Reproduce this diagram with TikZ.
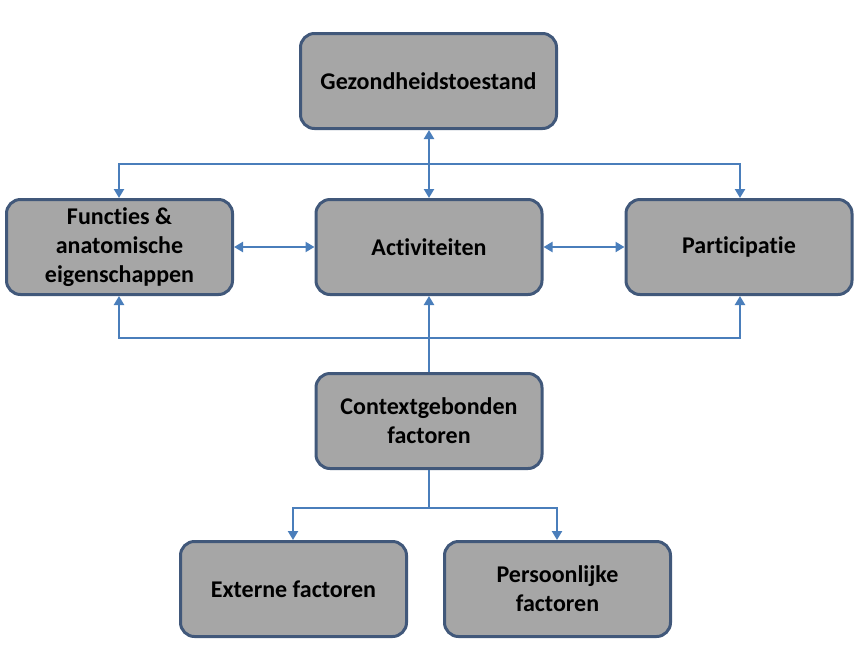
\documentclass[tikz,border=0pt]{standalone}
\usepackage{fontspec}
\setmainfont[Ligatures={NoCommon}]{Carlito}
\usetikzlibrary{arrows.meta}
\definecolor{boxfill}{HTML}{A6A6A6}
\definecolor{boxline}{HTML}{41587A}
\definecolor{conn}{HTML}{4A7EBB}
\begin{document}
\begin{tikzpicture}[x=1pt,y=-1pt,
  box/.style={draw=boxline, fill=boxfill, line width=3pt, rounded corners=14pt,
    minimum width=226pt, minimum height=95pt, align=center, inner sep=0pt,
    font=\bfseries\fontsize{24}{29}\selectfont},
  conline/.style={draw=conn, line width=2.9pt},
  arr/.style={conline, -{Triangle[length=9pt,width=10pt]}},
  darr/.style={conline, {Triangle[length=9pt,width=10pt]}-{Triangle[length=9pt,width=10pt]}}]
\useasboundingbox (0,0) rectangle (863,657);
\node[box, minimum width=256pt] (gez) at (428.5,81) {Gezondheidstoestand};
\node[box] (fun) at (119.5,247) {Functies \&\\anatomische\\eigenschappen};
\node[box] (act) at (429,247) {Activiteiten};
\node[box] (par) at (739,247) {Participatie};
\node[box] (ctx) at (429,421) {Contextgebonden\\factoren};
\node[box] (ext) at (293.5,589) {Externe factoren};
\node[box] (per) at (557.5,589) {Persoonlijke\\factoren};
\coordinate (tl) at (119,164);
\coordinate (tr) at (740,164);
\coordinate (bl) at (119,338);
\coordinate (br) at (740,338);
\coordinate (cl) at (293,508);
\coordinate (cr) at (557,508);
\coordinate (cm) at (429,508);
% top
\draw[darr] (gez.south -| act.north) -- (act.north);
\draw[darr] (tl |- fun.north) -- (tl) -- (tr) -- (tr |- par.north);
% sides
\draw[darr] (fun.east) -- (act.west);
\draw[darr] (act.east) -- (par.west);
% bottom
\draw[arr] (ctx.north) -- (act.south);
\draw[darr] (bl |- fun.south) -- (bl) -- (br) -- (br |- par.south);
% context
\draw[conline] (ctx.south) -- (cm);
\draw[darr] (cl |- ext.north) -- (cl) -- (cr) -- (cr |- per.north);
\end{tikzpicture}
\end{document}
